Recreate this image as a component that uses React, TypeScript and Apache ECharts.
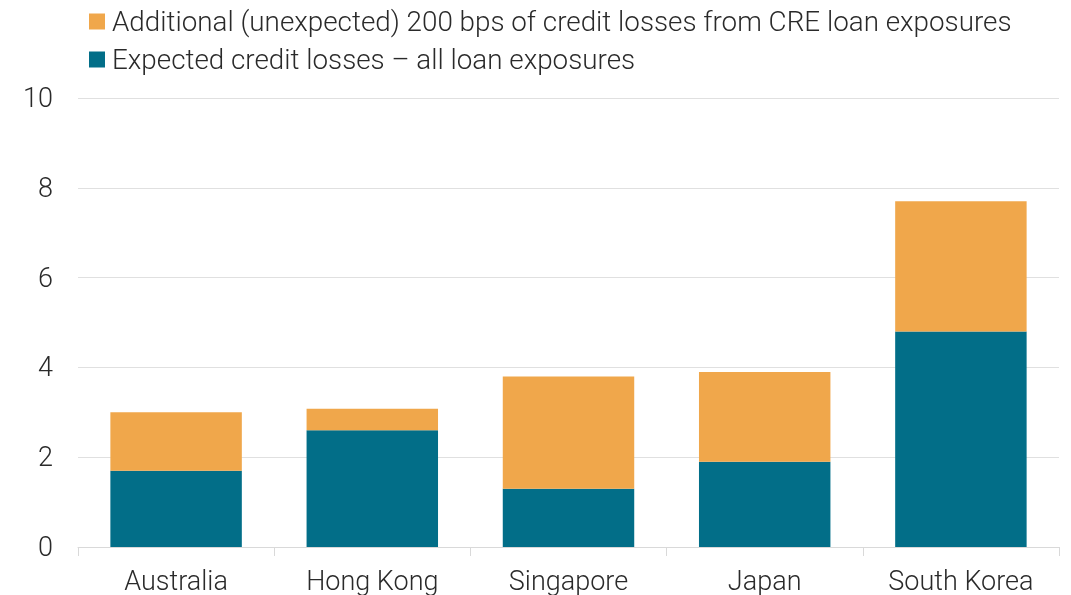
import React, { useEffect, useRef } from "react";
import * as echarts from "echarts";

const categories = ["Australia", "Hong Kong", "Singapore", "Japan", "South Korea"];
const expected = [1.7, 2.6, 1.3, 1.9, 4.8];
const additional = [1.3, 0.48, 2.5, 2.0, 2.9];
const seriesNames = [
  "Additional (unexpected) 200 bps of credit losses from CRE loan exposures",
  "Expected credit losses – all loan exposures",
];

export default function App() {
  const ref = useRef<HTMLDivElement>(null);
  useEffect(() => {
    const chart = echarts.init(ref.current!, null, { renderer: "svg" });
    const font = "Roboto";
    chart.setOption({
      animation: false,
      textStyle: { fontFamily: font },
      legend: {
        orient: "vertical",
        left: 84,
        top: 1,
        itemWidth: 16,
        itemHeight: 16,
        itemGap: 7,
        icon: "rect",
        data: [seriesNames[0], seriesNames[1]],
        textStyle: { fontSize: 27.8, lineHeight: 31, color: "#2a2a2a", fontWeight: 300, fontFamily: font, padding: [0, 0, 0, 2] },
      },
      grid: { left: 78, right: 12, top: 98, bottom: 48 },
      xAxis: {
        type: "category",
        data: categories,
        axisLine: { lineStyle: { color: "#d9d9d9", width: 1 } },
        axisTick: { show: true, length: 9, lineStyle: { color: "#d9d9d9" } },
        axisLabel: { fontSize: 27, color: "#2a2a2a", fontWeight: 300, margin: 20, fontFamily: font },
      },
      yAxis: {
        type: "value",
        min: 0,
        max: 10,
        interval: 2,
        axisLine: { show: false },
        axisTick: { show: false },
        splitLine: { lineStyle: { color: "#e0e0e0" } },
        axisLabel: { fontSize: 27, color: "#2a2a2a", fontWeight: 300, margin: 25, fontFamily: font },
      },
      series: [
        {
          name: seriesNames[1],
          type: "bar",
          stack: "a",
          data: expected,
          barWidth: "67%",
          itemStyle: { color: "#026e88" },
        },
        {
          name: seriesNames[0],
          type: "bar",
          stack: "a",
          data: additional,
          barWidth: "67%",
          itemStyle: { color: "#f0a74b" },
        },
      ],
    });
    return () => chart.dispose();
  }, []);
  return <div ref={ref} style={{ position: "fixed", left: 0, top: 0, width: 1071, height: 595 }} />;
}
